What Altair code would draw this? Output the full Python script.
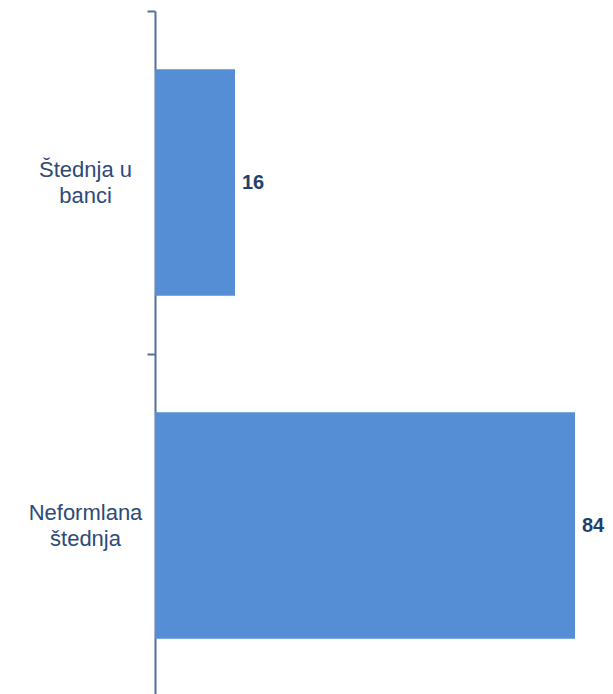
import altair as alt
import pandas as pd

categories = ["Štednja u banci", "Neformlana štednja"]
label_lines = [["Štednja u", "banci"], ["Neformlana", "štednja"]]
values = [16, 84]

df = pd.DataFrame({"cat": categories, "val": values})

label_expr = " : ".join(
    [f"datum.value == '{c}' ? {lines!r}" for c, lines in zip(categories, label_lines)]
) + " : datum.value"

y = alt.Y(
    "cat:N",
    sort=categories,
    scale=alt.Scale(paddingInner=0, paddingOuter=0),
    axis=alt.Axis(
        title=None,
        labelExpr=label_expr,
        labelAlign="center",
        labelBaseline="middle",
        labelFont="Liberation Sans",
        labelFontSize=22,
        labelColor="#2E4A78",
        labelLineHeight=26,
        labelOffset=-13,
        labelPadding=62,
        tickBand="extent",
        tickSize=8,
        tickWidth=2,
        tickColor="#52709A",
        domainColor="#52709A",
        domainWidth=2,
        grid=False,
    ),
)
x = alt.X("val:Q", scale=alt.Scale(domain=[0, 90]), axis=None)

bars = alt.Chart(df).mark_bar(color="#558ED5", height={"band": 0.66}).encode(y=y, x=x)
text = alt.Chart(df).mark_text(
    align="left", baseline="middle", dx=7, font="Liberation Sans",
    fontSize=20, fontWeight="bold", color="#1F3F6E"
).encode(y=alt.Y("cat:N", sort=categories), x=x, text="val:Q")

chart = (bars + text).properties(
    width=450, height=686,
    autosize=alt.AutoSizeParams(type="none"),
    padding={"left": 155, "top": 11, "right": 0, "bottom": 0},
    background="white",
).configure_view(stroke=None, strokeWidth=0)

chart.save("out.html", embed_options={"renderer": "svg", "actions": False})
